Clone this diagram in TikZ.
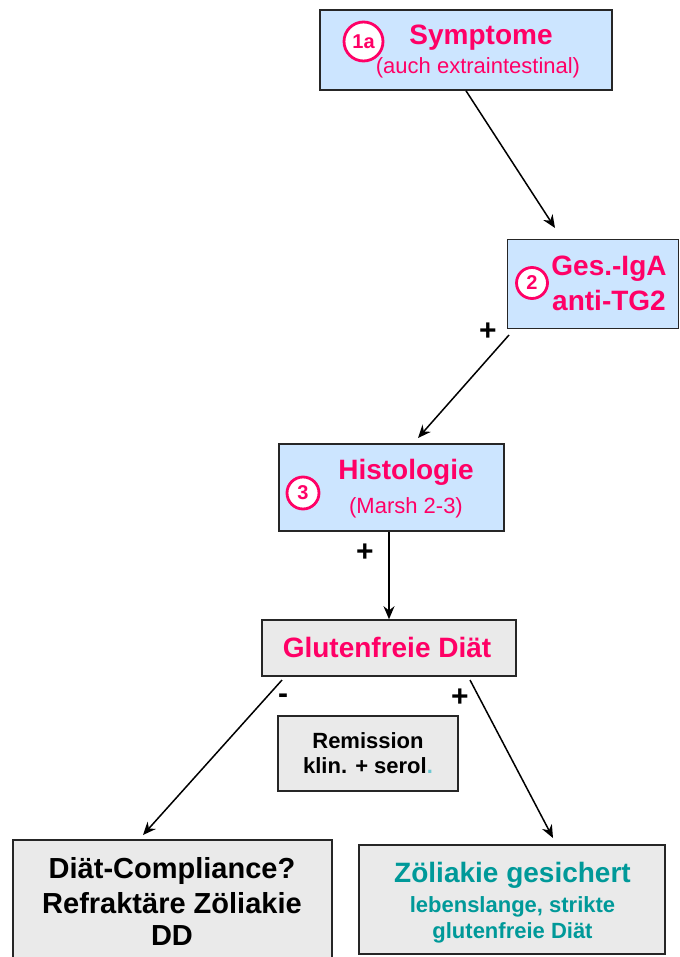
\documentclass[tikz,border=0pt]{standalone}
\usepackage{fontspec}
\setmainfont{Liberation Sans}
\usetikzlibrary{arrows.meta}
\definecolor{rosa}{RGB}{255,0,102}
\definecolor{petrol}{RGB}{0,153,153}
\definecolor{hellblau}{RGB}{204,229,255}
\definecolor{hellgrau}{RGB}{234,234,234}
\definecolor{punkt}{RGB}{110,200,210}
\newcommand{\gross}{\fontsize{14}{16}\selectfont\bfseries}
\newcommand{\klein}{\fontsize{11}{13}\selectfont}

\begin{document}
\begin{tikzpicture}[x=0.5pt,y=0.5pt,->,>={Stealth[length=6.5pt,width=5.5pt]},line width=0.75pt,
  blue node/.style={rectangle,fill=hellblau,draw=black!85,line width=0.8pt,inner sep=0pt},
  grey node/.style={rectangle,fill=hellgrau,draw=black!85,line width=0.8pt,inner sep=0pt},
  num node/.style={circle,fill=white,draw=rosa,line width=1.4pt,inner sep=0pt,text=rosa,font=\bfseries\fontsize{10}{10}\selectfont},
  text node/.style={inner sep=0pt,anchor=base},
  sign node/.style={inner sep=0pt,font=\bfseries\fontsize{15}{15}\selectfont}]

  \useasboundingbox (0,0) rectangle (679,-957);

  % boxes
  \node[blue node,minimum width=146pt,minimum height=40pt] (n1a) at (466,-50) {};
  \node[blue node,minimum width=85.5pt,minimum height=44.5pt] (n2) at (593,-284) {};
  \node[blue node,minimum width=112.5pt,minimum height=43.5pt] (n3) at (391.5,-487.5) {};
  \node[grey node,minimum width=127pt,minimum height=28pt] (ng) at (389,-648) {};
  \node[grey node,minimum width=90pt,minimum height=37.5pt] (nrem) at (368,-753.5) {};
  \node[grey node,minimum width=159.5pt,minimum height=65pt] (nl) at (172.5,-905) {};
  \node[grey node,minimum width=153pt,minimum height=54.5pt] (nr) at (512,-899.5) {};

  % numbers
  \node[num node,minimum size=19.5pt] (c1a) at (363.5,-41.5) {1a};
  \node[num node,minimum size=15.5pt] (c2) at (532,-283) {2};
  \node[num node,minimum size=16pt] (c3) at (303,-493) {3};

  % texts
  \node[text node,text=rosa,font=\gross] (t1a) at (481,-45) {Symptome};
  \node[text node,text=rosa,font=\klein] (t1b) at (478,-74) {(auch extraintestinal)};
  \node[text node,text=rosa,font=\gross] (t2a) at (609,-275) {Ges.-IgA};
  \node[text node,text=rosa,font=\gross] (t2b) at (609,-310) {anti-TG2};
  \node[text node,text=rosa,font=\gross] (t3a) at (406,-479) {Histologie};
  \node[text node,text=rosa,font=\klein] (t3b) at (406,-513) {(Marsh 2-3)};
  \node[text node,text=rosa,font=\gross] (tg) at (387,-657) {Glutenfreie Diät};
  \node[text node,font=\klein\bfseries] (trem1) at (368,-748) {Remission};
  \node[text node,font=\klein\bfseries] (trem2) at (368,-773) {klin. + serol\textcolor{punkt}{.}};
  \node[text node,font=\gross\fontsize{14.5}{16}\selectfont] (tl1) at (172,-878) {Diät-Compliance?};
  \node[text node,font=\gross\fontsize{14.5}{16}\selectfont] (tl2) at (172,-913) {Refraktäre Zöliakie};
  \node[text node,font=\gross\fontsize{14.5}{16}\selectfont] (tl3) at (172,-945) {DD};
  \node[text node,text=petrol,font=\gross] (tr1) at (512.5,-882) {Zöliakie gesichert};
  \node[text node,text=petrol,font=\klein\bfseries] (tr2) at (512.5,-912) {lebenslange, strikte};
  \node[text node,text=petrol,font=\klein\bfseries] (tr3) at (512.5,-938) {glutenfreie Diät};

  % signs
  \node[sign node] (p2) at (488,-332) {+};
  \node[sign node] (p3) at (365,-553) {+};
  \node[sign node] (mg) at (283,-699) {-};
  \node[sign node] (pg) at (460,-698) {+};

  % arrow ends
  \coordinate (e2) at (555,-228);
  \coordinate (s2) at (509,-335);
  \coordinate (e3) at (418,-438);
  \coordinate (sl) at (282,-680);
  \coordinate (el) at (143,-835);
  \coordinate (sr) at (470,-680);
  \coordinate (er) at (553,-838);

  \draw (n1a.south) -- (e2);
  \draw (s2) -- (e3);
  \draw (ng.north |- n3.south) -- (ng.north);
  \draw (sl) -- (el);
  \draw (sr) -- (er);

\end{tikzpicture}
\end{document}
